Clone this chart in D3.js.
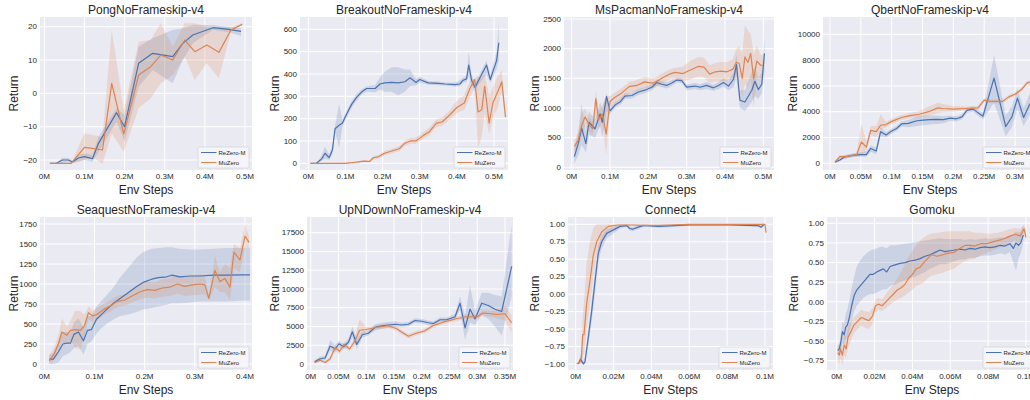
<!DOCTYPE html>
<html>
<head>
<meta charset="utf-8">
<script src="https://cdn.jsdelivr.net/npm/d3@7"></script>
<style>
  html, body { margin: 0; padding: 0; background: #ffffff; }
  svg { display: block; }
  text { font-family: "Liberation Sans", Arial, Helvetica, sans-serif; fill: #262626; }
</style>
</head>
<body>
<svg id="chart" width="1030" height="400"></svg>
<script>
// ---------------- DATA: each tuple = [env steps (M), mean return, band low, band high] ----------------
const seriesNames = ["ReZero-M", "MuZero"];
const titles = ["PongNoFrameskip-v4", "BreakoutNoFrameskip-v4", "MsPacmanNoFrameskip-v4", "QbertNoFrameskip-v4",
                "SeaquestNoFrameskip-v4", "UpNDownNoFrameskip-v4", "Connect4", "Gomoku"];

const pongRZ = [[0.014,-21,-21,-21],[0.03,-21,-21,-21],[0.045,-20,-21,-19.3],[0.06,-20,-20.6,-19.4],[0.07,-20.6,-21,-20],[0.085,-19.4,-20.5,-18.5],[0.1,-19,-20,-18],[0.12,-19.6,-20.6,-18.5],[0.135,-15,-17.5,-13],[0.18,-5.8,-8.5,-4.5],[0.2,-10,-14.5,-6.5],[0.235,9,2,14],[0.27,12,7,16.5],[0.32,11,3,19],[0.345,15,10,19.5],[0.37,17.5,15,20.5],[0.42,19.7,19,20.5],[0.46,19.2,18.3,20],[0.49,18.6,17.2,19.6]];
const pongMZ = [[0.014,-21,-21,-21],[0.067,-21,-21,-21],[0.1,-16.2,-20,-12],[0.12,-16.5,-19,-12.5],[0.145,-17,-21.2,-13],[0.168,3,-12,19],[0.198,-12.2,-17.5,-5],[0.235,5.5,-4.5,15.5],[0.265,8,-1.5,16],[0.29,11.5,3,21],[0.32,10,5.5,14],[0.35,16,11,21],[0.375,12.5,4,21],[0.405,14.5,9,20],[0.435,12.3,4.5,20],[0.465,19,18.5,19.8],[0.493,20.7,20.5,21]];

const breakoutRZ = [[0.006,0,0,0],[0.022,0,0,2],[0.036,20,10,35],[0.045,45,20,75],[0.056,25,15,40],[0.065,60,40,80],[0.072,155,140,170],[0.083,170,70,265],[0.092,180,165,195],[0.103,220,205,235],[0.117,265,250,280],[0.13,295,280,310],[0.144,320,308,332],[0.157,335,322,345],[0.18,335,318,350],[0.193,355,330,385],[0.206,360,320,410],[0.224,362,320,430],[0.242,360,305,430],[0.26,365,320,420],[0.274,383,345,420],[0.29,362,348,378],[0.3,375,362,388],[0.323,360,352,368],[0.35,358,350,366],[0.368,355,348,362],[0.395,352,344,362],[0.408,355,345,372],[0.417,372,360,385],[0.426,378,365,392],[0.432,440,390,500],[0.44,370,350,395],[0.449,340,320,360],[0.458,370,352,390],[0.48,440,400,460],[0.49,375,360,395],[0.507,460,420,500],[0.513,540,460,625]];
const breakoutMZ = [[0.006,0,0,0],[0.05,0,0,0],[0.1,0,0,2],[0.13,5,2,8],[0.15,10,5,15],[0.165,8,4,12],[0.175,25,18,32],[0.19,30,22,38],[0.205,45,35,55],[0.225,55,45,65],[0.245,65,55,78],[0.26,90,78,102],[0.275,100,88,112],[0.29,100,88,115],[0.31,125,110,140],[0.325,140,125,158],[0.345,180,162,198],[0.36,185,168,205],[0.38,215,195,235],[0.4,250,225,280],[0.42,270,240,305],[0.435,335,295,370],[0.448,375,340,380],[0.457,230,70,390],[0.467,240,120,380],[0.475,345,230,400],[0.487,180,130,300],[0.497,270,200,340],[0.51,320,250,390],[0.521,365,320,415],[0.531,207,195,220]];

const pacmanRZ = [[0.007,180,60,320],[0.017,400,200,600],[0.026,660,380,1080],[0.037,400,250,600],[0.045,760,550,950],[0.061,650,500,800],[0.074,900,700,1100],[0.08,760,500,1000],[0.091,1190,950,1250],[0.1,950,900,1000],[0.113,1050,1000,1100],[0.126,1100,1050,1150],[0.139,1200,1150,1250],[0.157,1210,1160,1260],[0.174,1270,1220,1320],[0.191,1300,1250,1350],[0.209,1350,1300,1400],[0.222,1430,1380,1480],[0.235,1400,1350,1450],[0.248,1380,1330,1430],[0.261,1420,1370,1470],[0.274,1470,1430,1510],[0.287,1460,1420,1500],[0.3,1350,1300,1400],[0.322,1370,1320,1420],[0.335,1350,1300,1400],[0.352,1380,1320,1440],[0.37,1340,1290,1390],[0.383,1380,1320,1440],[0.396,1430,1360,1500],[0.409,1370,1300,1450],[0.422,1480,1350,1600],[0.43,1730,1500,1900],[0.439,1130,1000,1300],[0.452,1100,950,1300],[0.47,1300,1100,1600],[0.478,1450,1200,1700],[0.487,1310,1150,1500],[0.496,1400,1250,1600],[0.503,1920,1600,2180]];
const pacmanMZ = [[0.007,350,250,450],[0.017,460,350,580],[0.026,700,500,900],[0.035,850,700,1000],[0.045,720,600,850],[0.055,650,550,780],[0.063,1160,900,1300],[0.07,800,650,950],[0.08,900,750,1050],[0.09,560,200,1200],[0.1,1110,1000,1200],[0.113,1180,1080,1260],[0.13,1250,1150,1330],[0.15,1360,1260,1440],[0.17,1380,1280,1470],[0.19,1440,1350,1520],[0.21,1420,1330,1500],[0.22,1440,1350,1520],[0.235,1500,1400,1580],[0.255,1570,1480,1650],[0.27,1600,1500,1680],[0.29,1580,1450,1700],[0.31,1640,1480,1790],[0.33,1700,1530,1860],[0.345,1690,1520,1850],[0.36,1570,1420,1720],[0.375,1610,1450,1760],[0.39,1620,1450,1780],[0.405,1610,1450,1770],[0.42,1650,1480,1820],[0.43,1770,1550,2000],[0.437,1750,1450,2050],[0.445,1500,1200,1900],[0.452,1860,1400,2400],[0.46,1770,1350,2300],[0.467,1920,1500,2250],[0.475,1490,1000,1900],[0.483,1790,1500,2050],[0.493,1720,1500,1900],[0.5,1720,1550,1900]];

const qbertRZ = [[0.008,80,0,200],[0.016,260,150,400],[0.024,500,350,650],[0.035,600,450,750],[0.043,650,500,800],[0.051,680,500,850],[0.059,680,500,900],[0.066,1150,900,1400],[0.075,950,700,1200],[0.082,2450,2100,2800],[0.091,2200,2000,2400],[0.1,2500,2300,2700],[0.108,2700,2500,2900],[0.116,3050,2850,3250],[0.127,3100,2800,3350],[0.141,3300,2900,3600],[0.151,3350,2950,3700],[0.162,3380,3000,3700],[0.173,3400,3050,3700],[0.184,3380,3100,3650],[0.195,3500,3300,3700],[0.205,3450,3250,3650],[0.214,3600,3400,3800],[0.222,4100,3900,4300],[0.232,4200,4000,4400],[0.248,3650,3400,3900],[0.266,6600,4700,8400],[0.285,2850,2100,3700],[0.295,3600,2800,4400],[0.304,5050,4200,5800],[0.314,3550,2900,4300],[0.324,4600,3800,5400],[0.334,4900,4200,5600],[0.344,4700,4000,5400]];
const qbertMZ = [[0.008,80,0,200],[0.016,520,400,650],[0.027,520,400,650],[0.035,620,500,750],[0.043,650,500,800],[0.051,1650,700,3000],[0.059,1250,900,1700],[0.066,2550,2200,2900],[0.075,2450,2000,2900],[0.082,2950,2600,3800],[0.091,3000,2800,3200],[0.1,3250,3050,3450],[0.116,3550,3350,3750],[0.13,3700,3500,3900],[0.145,3800,3550,4050],[0.16,4000,3700,4400],[0.175,4300,3900,4700],[0.183,4250,3950,4600],[0.2,4200,4000,4450],[0.22,4250,4100,4400],[0.24,4300,4150,4450],[0.25,4900,4750,5050],[0.26,4800,4650,4950],[0.28,4800,4650,4950],[0.29,5150,5000,5300],[0.3,5350,5200,5500],[0.31,5700,5550,5850],[0.32,6250,6100,6400],[0.33,6300,6150,6450],[0.345,6200,6050,6350]];

const seaquestRZ = [[0.01,60,0,120],[0.018,60,0,140],[0.028,150,20,280],[0.037,250,100,400],[0.045,260,120,400],[0.052,260,150,380],[0.059,370,200,520],[0.068,400,230,570],[0.078,290,120,460],[0.086,420,250,600],[0.094,430,280,600],[0.104,560,380,720],[0.114,620,450,790],[0.124,680,500,860],[0.138,760,560,960],[0.151,820,600,1080],[0.167,890,620,1200],[0.184,970,650,1330],[0.197,1020,680,1400],[0.214,1060,700,1440],[0.227,1080,720,1450],[0.244,1090,740,1460],[0.254,1110,760,1460],[0.27,1090,760,1440],[0.29,1100,770,1430],[0.31,1100,780,1430],[0.337,1110,780,1440],[0.363,1110,780,1450],[0.39,1115,790,1450],[0.41,1115,790,1450]];
const seaquestMZ = [[0.01,40,0,100],[0.02,130,50,220],[0.028,250,150,350],[0.035,400,270,570],[0.045,360,250,470],[0.052,420,300,540],[0.062,430,200,670],[0.072,420,180,660],[0.08,480,350,620],[0.088,640,560,720],[0.097,600,530,670],[0.105,620,550,700],[0.118,680,610,750],[0.13,720,650,790],[0.145,780,710,850],[0.16,800,730,870],[0.175,850,770,930],[0.19,900,810,990],[0.205,930,830,1030],[0.22,920,820,1020],[0.235,950,840,1060],[0.25,960,850,1070],[0.265,1000,880,1110],[0.28,970,850,1080],[0.295,990,860,1110],[0.31,1000,870,1120],[0.32,990,870,1100],[0.328,820,800,850],[0.34,1170,960,1350],[0.35,1030,900,1150],[0.36,1070,900,1250],[0.37,960,800,1200],[0.378,1400,1200,1500],[0.39,1300,1150,1450],[0.4,1600,1450,1750],[0.408,1520,1450,1600]];

const upndownRZ = [[0.007,300,100,500],[0.017,700,400,1000],[0.026,800,500,1100],[0.035,2400,1800,3200],[0.044,2000,1500,2500],[0.051,2700,2200,3100],[0.059,2300,1900,2700],[0.068,2900,2400,3400],[0.075,4300,3500,5000],[0.083,2600,2000,3300],[0.093,3900,3500,4300],[0.104,4100,3800,4400],[0.116,4900,4500,5300],[0.128,5100,4700,5500],[0.14,5200,4800,5600],[0.152,5300,4900,5700],[0.164,5200,4900,5500],[0.176,5300,5000,5600],[0.188,5800,5500,6100],[0.2,5700,5400,6000],[0.212,5500,5200,5800],[0.221,5400,5100,5700],[0.233,5900,5600,6200],[0.245,5900,5600,6200],[0.26,6300,5900,6700],[0.269,8100,7200,9000],[0.278,4800,3200,6400],[0.287,7300,5500,10500],[0.296,6000,5200,7000],[0.308,8100,6500,9500],[0.32,7800,6000,9500],[0.332,7300,5000,9200],[0.344,7000,3800,9000],[0.362,13000,9000,18500]];
const upndownMZ = [[0.007,200,50,400],[0.017,500,300,700],[0.026,200,50,400],[0.035,700,400,1000],[0.044,2200,1800,2600],[0.052,1700,1300,2100],[0.06,2600,2200,3000],[0.07,2000,1700,2300],[0.08,3100,2500,3700],[0.088,4500,3500,6000],[0.1,4600,4300,4900],[0.12,4900,4600,5200],[0.14,5100,4800,5400],[0.155,4700,4400,5000],[0.165,4200,3900,4500],[0.176,3700,3400,4000],[0.19,4100,3800,4400],[0.205,4400,4100,4700],[0.22,5100,4800,5400],[0.24,5600,5300,5900],[0.26,6000,5700,6300],[0.28,6300,6000,6600],[0.3,6300,6000,6600],[0.31,6800,6500,7100],[0.325,6700,6300,7100],[0.335,6600,6100,7100],[0.35,6700,5800,7800],[0.362,5500,4200,6500]];

const connect4RZ = [[0.0014,-1,-1,-1],[0.0026,-0.93,-0.98,-0.88],[0.004,-1,-1,-0.96],[0.0049,-0.97,-1,-0.9],[0.0067,-0.61,-0.72,-0.5],[0.0085,-0.23,-0.38,-0.08],[0.0102,0.18,0.02,0.34],[0.0119,0.58,0.45,0.7],[0.0137,0.75,0.65,0.84],[0.0164,0.87,0.8,0.93],[0.0199,0.92,0.87,0.96],[0.0234,0.97,0.94,0.99],[0.027,0.98,0.96,1],[0.0285,0.94,0.91,0.97],[0.03,0.93,0.9,0.96],[0.033,0.96,0.93,0.98],[0.0357,0.98,0.96,1],[0.038,0.98,0.96,1],[0.0437,0.97,0.95,0.99],[0.052,0.98,0.96,1],[0.0595,0.99,0.98,1],[0.0665,0.99,0.98,1],[0.0736,0.99,0.98,1],[0.082,0.99,0.98,1],[0.091,0.985,0.97,1],[0.0965,0.98,0.96,1],[0.098,0.96,0.94,0.99],[0.0996,1,0.98,1]];
const connect4MZ = [[0.0005,-1,-1,-1],[0.0023,-0.97,-1,-0.9],[0.003,-0.92,-1,-0.8],[0.0037,-0.58,-0.9,-0.3],[0.0044,-0.58,-0.85,-0.1],[0.0058,-0.13,-0.5,0.45],[0.0076,0.2,-0.15,0.77],[0.0093,0.56,0.25,0.95],[0.0111,0.75,0.56,1],[0.0137,0.89,0.73,1],[0.0172,0.97,0.9,1],[0.0225,0.99,0.97,1],[0.03,0.99,0.98,1],[0.04,0.98,0.97,1],[0.05,0.99,0.98,1],[0.06,1,0.99,1],[0.08,1,0.99,1],[0.095,1,0.99,1],[0.1,1,0.99,1],[0.1005,0.88,0.83,0.93]];

const gomokuRZ = [[0.0005,-0.62,-0.68,-0.56],[0.0014,-0.6,-0.67,-0.52],[0.0023,-0.5,-0.6,-0.38],[0.003,-0.38,-0.52,-0.25],[0.0039,-0.42,-0.55,-0.28],[0.0048,-0.32,-0.48,-0.15],[0.0056,-0.3,-0.45,-0.1],[0.0067,-0.2,-0.38,0.02],[0.0079,-0.05,-0.25,0.18],[0.0092,0.08,-0.12,0.32],[0.0106,0.15,-0.05,0.45],[0.0123,0.2,0.0,0.52],[0.0141,0.25,0.05,0.58],[0.0158,0.3,0.08,0.62],[0.0176,0.35,0.1,0.65],[0.0194,0.35,0.1,0.67],[0.0211,0.38,0.12,0.68],[0.0229,0.4,0.14,0.7],[0.0246,0.42,0.16,0.7],[0.0264,0.38,0.16,0.68],[0.0282,0.45,0.2,0.72],[0.0308,0.47,0.22,0.72],[0.0335,0.49,0.25,0.73],[0.0361,0.5,0.27,0.74],[0.0387,0.52,0.3,0.75],[0.0414,0.53,0.32,0.76],[0.044,0.55,0.35,0.77],[0.0467,0.58,0.38,0.78],[0.0493,0.6,0.42,0.79],[0.052,0.63,0.45,0.8],[0.0546,0.66,0.48,0.81],[0.0572,0.64,0.48,0.8],[0.0599,0.65,0.5,0.8],[0.0625,0.66,0.52,0.8],[0.0651,0.67,0.54,0.8],[0.0678,0.66,0.54,0.79],[0.0704,0.68,0.56,0.8],[0.0731,0.67,0.56,0.79],[0.0757,0.69,0.58,0.8],[0.0783,0.7,0.59,0.81],[0.081,0.69,0.59,0.8],[0.0836,0.7,0.6,0.81],[0.0863,0.72,0.62,0.82],[0.0889,0.71,0.6,0.82],[0.0915,0.74,0.63,0.85],[0.0933,0.68,0.5,0.85],[0.0947,0.75,0.4,0.9],[0.096,0.72,0.55,0.88],[0.0972,0.75,0.62,0.9],[0.0986,0.85,0.75,0.98]];
const gomokuMZ = [[0.0005,-0.65,-0.75,-0.55],[0.0014,-0.68,-0.8,-0.58],[0.002,-0.6,-0.72,-0.5],[0.003,-0.68,-0.8,-0.55],[0.004,-0.55,-0.68,-0.4],[0.005,-0.6,-0.72,-0.45],[0.006,-0.45,-0.58,-0.32],[0.0075,-0.38,-0.5,-0.26],[0.009,-0.3,-0.4,-0.2],[0.011,-0.25,-0.35,-0.15],[0.013,-0.2,-0.3,-0.1],[0.015,-0.22,-0.33,-0.12],[0.017,-0.24,-0.35,-0.13],[0.019,-0.18,-0.28,-0.08],[0.0205,-0.05,-0.13,0.03],[0.022,-0.03,-0.1,0.05],[0.024,-0.05,-0.12,0.03],[0.026,0.0,-0.08,0.1],[0.028,0.05,-0.04,0.16],[0.03,0.1,0.0,0.22],[0.032,0.15,0.03,0.3],[0.034,0.18,0.05,0.38],[0.036,0.22,0.08,0.48],[0.038,0.3,0.12,0.58],[0.04,0.35,0.15,0.65],[0.042,0.42,0.2,0.72],[0.044,0.44,0.22,0.78],[0.046,0.5,0.25,0.82],[0.048,0.55,0.3,0.85],[0.05,0.6,0.33,0.87],[0.053,0.58,0.35,0.88],[0.056,0.6,0.37,0.89],[0.059,0.62,0.4,0.9],[0.062,0.63,0.42,0.9],[0.065,0.68,0.48,0.9],[0.068,0.72,0.52,0.9],[0.07,0.72,0.54,0.9],[0.073,0.71,0.55,0.88],[0.076,0.74,0.6,0.88],[0.079,0.74,0.62,0.87],[0.082,0.76,0.65,0.87],[0.085,0.78,0.68,0.88],[0.088,0.8,0.7,0.9],[0.091,0.83,0.74,0.92],[0.094,0.86,0.78,0.94],[0.097,0.84,0.75,0.93],[0.099,0.93,0.86,0.98],[0.1,0.82,0.75,0.9]];

// Tick values
const xTicks05 = [0, 0.1, 0.2, 0.3, 0.4, 0.5];
const xTicks04 = [0, 0.1, 0.2, 0.3, 0.4];
const xTicksQbert = [0, 0.05, 0.1, 0.15, 0.2, 0.25, 0.3];
const xTicksUpNDown = [0, 0.05, 0.1, 0.15, 0.2, 0.25, 0.3, 0.35];
const xTicksBoard = [0, 0.02, 0.04, 0.06, 0.08, 0.1];
const yTicksPong = [-20, -10, 0, 10, 20];
const yTicksBreakout = [0, 100, 200, 300, 400, 500, 600];
const yTicksPacman = [0, 500, 1000, 1500, 2000, 2500];
const yTicksQbert = [0, 2000, 4000, 6000, 8000, 10000];
const yTicksSeaquest = [0, 250, 500, 750, 1000, 1250, 1500, 1750];
const yTicksUpNDown = [0, 2500, 5000, 7500, 10000, 12500, 15000, 17500];
const yTicksConnect4 = [-1, -0.75, -0.5, -0.25, 0, 0.25, 0.5, 0.75, 1];
const yTicksGomoku = [-0.75, -0.5, -0.25, 0, 0.25, 0.5, 0.75, 1];

// ---------------- LAYOUT ----------------
const COLORS = ["#4c72b0", "#dd8452"];
const BG = "#eaeaf2";
const fmtInt = d => String(d).replace("-", "\u2212");
const fmt2 = d => d3.format(".2f")(d).replace("-", "\u2212");
const fmtX = d => (d === 0 ? "0" : String(+d.toFixed(3))) + "M";

// box: [left, top, right, bottom]; xAnchor: [value0, px0, value1, px1]; yAnchor likewise
const panels = [
  {rz: pongRZ, mz: pongMZ, xt: xTicks05, yt: yTicksPong, fy: fmtInt, box:[40,17,252,170], xa:[0,44.3,0.5,245], ya:[20,26.7,-20,160], yl:17.5},
  {rz: breakoutRZ, mz: breakoutMZ, xt: xTicks05, yt: yTicksBreakout, fy: fmtInt, box:[300,17,508,170], xa:[0,308.3,0.5,494], ya:[600,29.3,0,163.3], yl:279},
  {rz: pacmanRZ, mz: pacmanMZ, xt: xTicks05, yt: yTicksPacman, fy: fmtInt, box:[564,17,774,170], xa:[0,571.7,0.5,763.3], ya:[2500,19,0,167.3], yl:539},
  {rz: qbertRZ, mz: qbertMZ, xt: xTicksQbert, yt: yTicksQbert, fy: fmtInt, box:[823,17,1037,170], xa:[0,830,0.3,1015], ya:[10000,34.3,0,163.3], yl:797},
  {rz: seaquestRZ, mz: seaquestMZ, xt: xTicks04, yt: yTicksSeaquest, fy: fmtInt, box:[40,217,252,370], xa:[0,44.3,0.4,245], ya:[1750,224,0,364], yl:17.5},
  {rz: upndownRZ, mz: upndownMZ, xt: xTicksUpNDown, yt: yTicksUpNDown, fy: fmtInt, box:[307,217,513,370], xa:[0,310.7,0.35,505], ya:[17500,232.7,0,364], yl:278.5},
  {rz: connect4RZ, mz: connect4MZ, xt: xTicksBoard, yt: yTicksConnect4, fy: fmt2, box:[568,217,773,370], xa:[0,575.7,0.1,765], ya:[1,224.3,-1,364], yl:539},
  {rz: gomokuRZ, mz: gomokuMZ, xt: xTicksBoard, yt: yTicksGomoku, fy: fmt2, box:[827,217,1037,370], xa:[0,836.7,0.1,1026], ya:[1,223.3,-0.75,360.7], yl:798}
];

const svg = d3.select("#chart");
svg.append("rect").attr("width", 1030).attr("height", 400).attr("fill", "#ffffff");
const defs = svg.append("defs");

panels.forEach((p, i) => {
  const [L, T, R, B] = p.box;
  const x = d3.scaleLinear().domain([p.xa[0], p.xa[2]]).range([p.xa[1], p.xa[3]]);
  const y = d3.scaleLinear().domain([p.ya[0], p.ya[2]]).range([p.ya[1], p.ya[3]]);
  const g = svg.append("g");

  g.append("rect").attr("x", L).attr("y", T).attr("width", R - L).attr("height", B - T).attr("fill", BG);

  // grid
  g.selectAll(".gx").data(p.xt).enter().append("line")
    .attr("x1", d => x(d)).attr("x2", d => x(d)).attr("y1", T).attr("y2", B)
    .attr("stroke", "#ffffff").attr("stroke-width", 1);
  g.selectAll(".gy").data(p.yt).enter().append("line")
    .attr("x1", L).attr("x2", R).attr("y1", d => y(d)).attr("y2", d => y(d))
    .attr("stroke", "#ffffff").attr("stroke-width", 1);

  // tick labels
  g.selectAll(".tx").data(p.xt).enter().append("text")
    .attr("x", d => x(d)).attr("y", B + 8.5).attr("text-anchor", "middle")
    .attr("font-size", 8).text(fmtX);
  g.selectAll(".ty").data(p.yt).enter().append("text")
    .attr("x", L - 3).attr("y", d => y(d)).attr("dy", "0.34em").attr("text-anchor", "end")
    .attr("font-size", 8).text(p.fy);

  // clip
  const cid = "clip" + i;
  defs.append("clipPath").attr("id", cid).append("rect")
    .attr("x", L).attr("y", T).attr("width", R - L).attr("height", B - T);
  const marks = g.append("g").attr("clip-path", `url(#${cid})`);

  const area = d3.area().x(d => x(d[0])).y0(d => y(d[2])).y1(d => y(d[3]));
  const line = d3.line().x(d => x(d[0])).y(d => y(d[1]));
  [p.rz, p.mz].forEach((s, k) => {
    marks.append("path").attr("d", area(s)).attr("fill", COLORS[k]).attr("fill-opacity", 0.2).attr("stroke", "none");
  });
  [p.rz, p.mz].forEach((s, k) => {
    marks.append("path").attr("d", line(s)).attr("fill", "none").attr("stroke", COLORS[k])
      .attr("stroke-width", 1.2).attr("stroke-linejoin", "round");
  });

  // title and axis labels
  const cx = (L + R) / 2, cy = (T + B) / 2;
  g.append("text").attr("x", cx).attr("y", T - 3.5).attr("text-anchor", "middle")
    .attr("font-size", 12).text(titles[i]);
  g.append("text").attr("x", cx).attr("y", B + 23.5).attr("text-anchor", "middle")
    .attr("font-size", 12).text("Env Steps");
  g.append("text").attr("transform", `translate(${p.yl},${cy}) rotate(-90)`).attr("text-anchor", "middle")
    .attr("font-size", 12).text("Return");

  // legend
  const lw = 51, lh = 21;
  const lx = R - 3 - lw, ly = B - 2 - lh;
  const lg = g.append("g");
  lg.append("rect").attr("x", lx).attr("y", ly).attr("width", lw).attr("height", lh).attr("rx", 1.5)
    .attr("fill", "#f6f6f9").attr("fill-opacity", 0.9).attr("stroke", "#cfcfd4").attr("stroke-width", 0.6);
  seriesNames.forEach((name, k) => {
    const yy = ly + 5.5 + k * 10;
    lg.append("line").attr("x1", lx + 3).attr("x2", lx + 18.5).attr("y1", yy).attr("y2", yy)
      .attr("stroke", COLORS[k]).attr("stroke-width", 1);
    lg.append("text").attr("x", lx + 20.5).attr("y", yy).attr("dy", "0.35em")
      .attr("font-size", 6).attr("fill", "#333333").text(name);
  });
});
</script>
</body>
</html>
